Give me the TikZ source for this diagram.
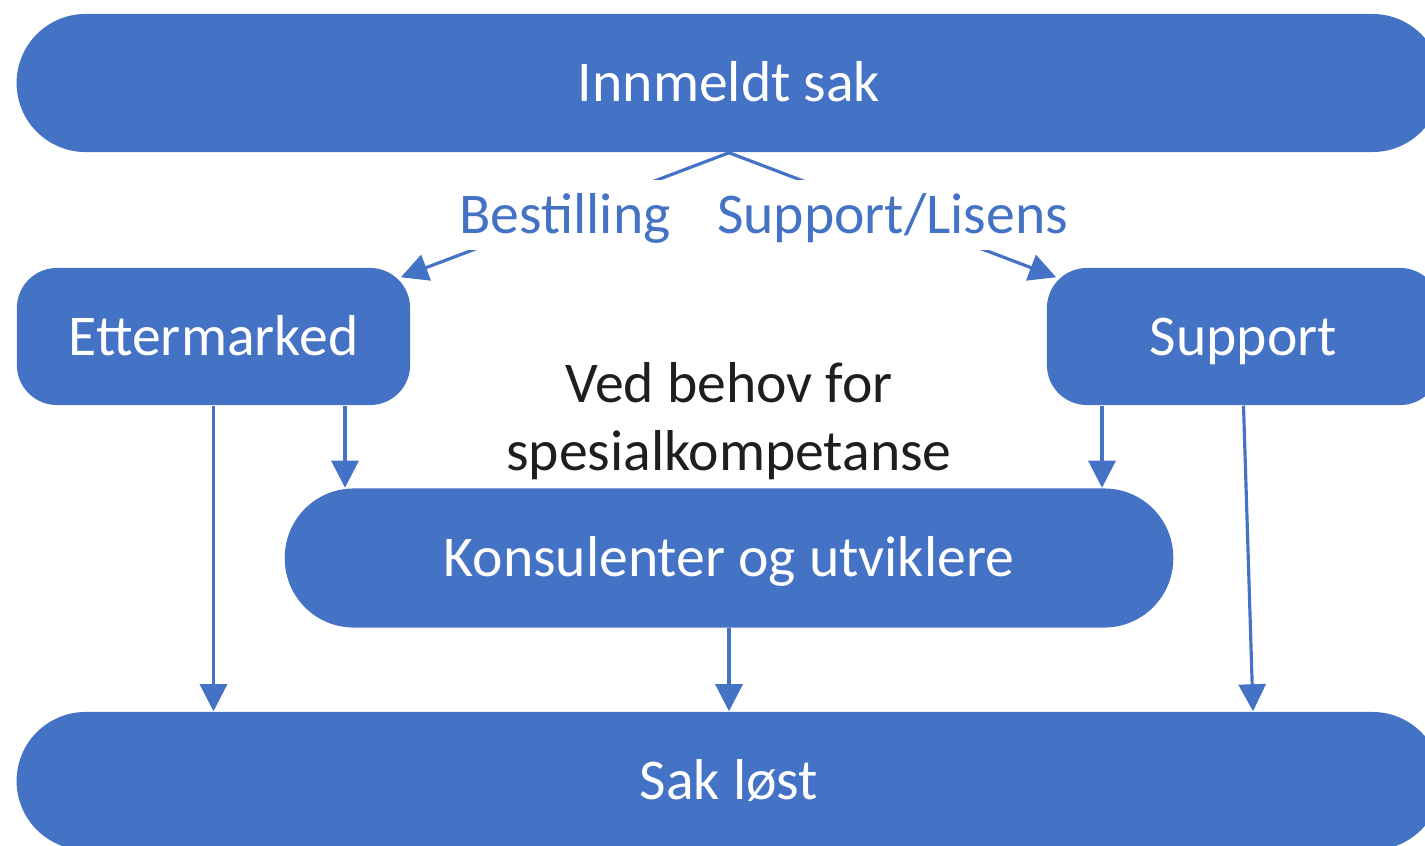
\documentclass[tikz,border=0pt]{standalone}
\usepackage{fontspec}
\setmainfont{Carlito}
\usetikzlibrary{arrows.meta,calc}
\definecolor{bl}{HTML}{4472C4}
\definecolor{tx}{HTML}{1E1E1E}
\begin{document}
\begin{tikzpicture}[x=0.01cm,y=-0.01cm,
  font=\fontsize{16.4}{19.35}\selectfont,
  box/.style={fill=bl, text=white, inner sep=0pt, text height=0.37cm, text depth=0pt},
  pill/.style={box, minimum height=1.38cm, rounded corners=0.69cm},
  sidebox/.style={box, minimum width=3.93cm, minimum height=1.37cm, rounded corners=0.4cm},
  arr/.style={draw=bl, line width=0.9pt, -{Triangle[length=0.27cm,width=0.27cm]}},
  lbl/.style={fill=white, text=bl, inner sep=0pt, inner xsep=3pt, minimum height=0.69cm, text height=0.37cm, text depth=0pt}]
\useasboundingbox (0,0) rectangle (1425,846);
\begin{scope}
\clip (0,0) rectangle (1425,846);
\node[pill, minimum width=14.24cm] (top) at (729,83) {Innmeldt sak};
\node[sidebox] (ett) at (213.5,336.5) {Ettermarked};
\node[sidebox] (sup) at (1243.5,336.5) {Support};
\node[pill, minimum width=8.88cm, minimum height=1.39cm] (kons) at (729,558) {Konsulenter og utviklere};
\node[pill, minimum width=14.24cm] (sak) at (729,781) {Sak løst};
\node[text=tx, align=center, inner sep=0pt] (ved) at (729,421) {Ved behov for\\spesialkompetanse};

\draw[arr] (top.south) -- node[lbl]{Bestilling} ($(ett.north east)+(-10,10)$);
\draw[arr] (top.south) -- node[lbl]{Support/Lisens} ($(sup.north west)+(10,10)$);

\coordinate (e1) at ($(ett.south)+(131.5,0)$);
\coordinate (s1) at ($(sup.south)+(-141.5,0)$);
\coordinate (s2) at ($(sup.south |- sak.north)+(9.5,0)$);
\draw[arr] (ett.south) -- (ett.south |- sak.north);
\draw[arr] (e1) -- (e1 |- kons.north);
\draw[arr] (s1) -- (s1 |- kons.north);
\draw[arr] (sup.south) -- (s2);
\draw[arr] (kons.south) -- (sak.north);
\end{scope}
\end{tikzpicture}
\end{document}
